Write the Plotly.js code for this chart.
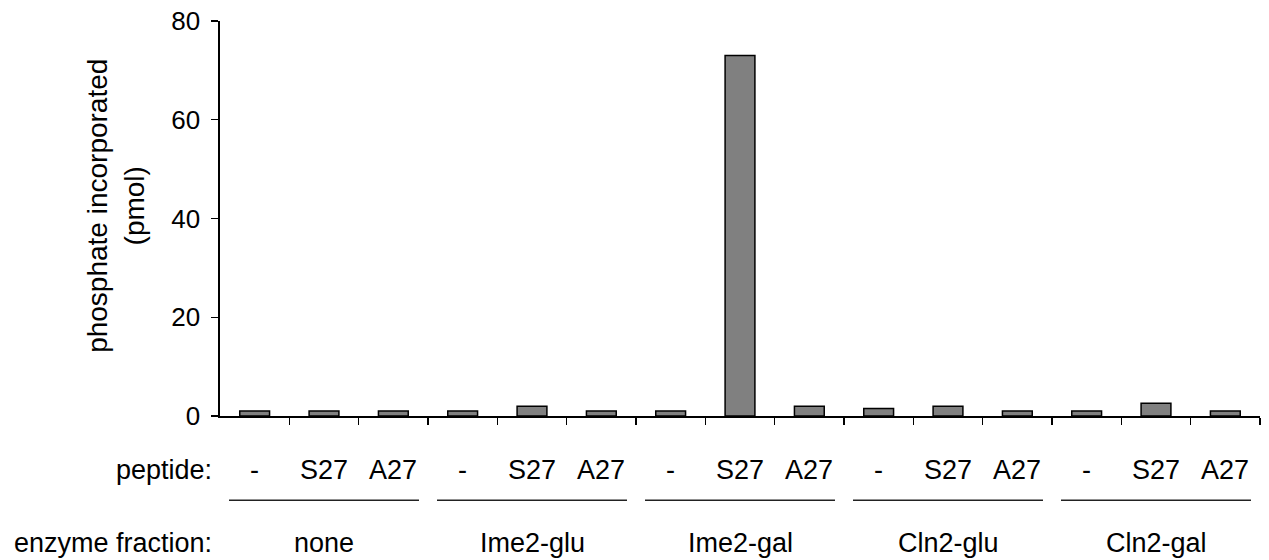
<!DOCTYPE html>
<html>
<head>
<meta charset="utf-8">
<script src="https://cdn.plot.ly/plotly-3.0.1.min.js"></script>
<style>html,body{margin:0;padding:0;background:#fff;}#chart{width:1269px;height:560px;}</style>
</head>
<body>
<div id="chart"></div>
<script>
// Data
const peptides = ['-', 'S27', 'A27', '-', 'S27', 'A27', '-', 'S27', 'A27', '-', 'S27', 'A27', '-', 'S27', 'A27'];
const enzymeFractions = ['none', 'Ime2-glu', 'Ime2-gal', 'Cln2-glu', 'Cln2-gal'];
const phosphate = [1, 1, 1, 1, 2, 1, 1, 73, 2, 1.5, 2, 1, 1, 2.6, 1];
const yTicks = [0, 20, 40, 60, 80];

const FONT = 'Liberation Sans, Arial, sans-serif';
const idx = peptides.map((_, i) => i);
const ROWSIZE = 27;

const annotations = [];
peptides.forEach((p, i) => {
  annotations.push({x: i, xref: 'x', y: -0.137, yref: 'paper', text: p, showarrow: false,
    xanchor: 'center', yanchor: 'middle', font: {family: FONT, size: ROWSIZE, color: '#000'}});
});
enzymeFractions.forEach((g, k) => {
  annotations.push({x: k * 3 + 1, xref: 'x', y: -0.322, yref: 'paper', text: g, showarrow: false,
    xanchor: 'center', yanchor: 'middle', font: {family: FONT, size: ROWSIZE, color: '#000'}});
});
annotations.push({x: 0, xref: 'paper', xshift: -6, y: -0.137, yref: 'paper', text: 'peptide:', showarrow: false,
  xanchor: 'right', yanchor: 'middle', font: {family: FONT, size: ROWSIZE, color: '#000'}});
annotations.push({x: 0, xref: 'paper', xshift: -6, y: -0.322, yref: 'paper', text: 'enzyme fraction:', showarrow: false,
  xanchor: 'right', yanchor: 'middle', font: {family: FONT, size: ROWSIZE, color: '#000'}});
annotations.push({x: 0, xref: 'paper', xshift: -104, y: 0.532, yref: 'paper', text: 'phosphate incorporated<br>(pmol)',
  showarrow: false, textangle: -90, xanchor: 'center', yanchor: 'middle',
  font: {family: FONT, size: 28, color: '#000'}});

const shapes = enzymeFractions.map((g, k) => ({
  type: 'line', xref: 'x', yref: 'paper', x0: k * 3 - 0.5 + 0.13, x1: k * 3 + 2.5 - 0.13,
  y0: -0.213, y1: -0.213, line: {color: '#222', width: 1.5}
}));

const trace = {
  type: 'bar', x: idx, y: phosphate,
  marker: {color: '#808080', line: {color: '#000', width: 1.5}},
  hoverinfo: 'skip'
};

const layout = {
  width: 1269, height: 560,
  margin: {l: 220, r: 9, t: 21, b: 144},
  paper_bgcolor: '#fff', plot_bgcolor: '#fff',
  showlegend: false,
  bargap: 0.57,
  font: {family: FONT, color: '#000'},
  xaxis: {
    range: [-0.5, 14.5], showgrid: false, zeroline: false,
    showline: true, linecolor: '#000', linewidth: 1.6,
    tickmode: 'array', tickvals: idx.map(i => i + 0.5), ticktext: idx.map(() => ''),
    ticks: 'outside', ticklen: 7, tickwidth: 1.2, tickcolor: '#000',
    showticklabels: false, fixedrange: true
  },
  yaxis: {
    range: [0, 80], showgrid: false, zeroline: false,
    showline: true, linecolor: '#000', linewidth: 1.6,
    tickmode: 'array', tickvals: yTicks, ticktext: yTicks.map(String),
    ticks: 'outside', ticklen: 7, tickwidth: 1.2, tickcolor: '#000',
    ticklabelstandoff: 6,
    tickfont: {family: FONT, size: 26, color: '#000'}, fixedrange: true
  },
  annotations: annotations,
  shapes: shapes
};

Plotly.newPlot('chart', [trace], layout, {displayModeBar: false, staticPlot: true});
</script>
</body>
</html>
